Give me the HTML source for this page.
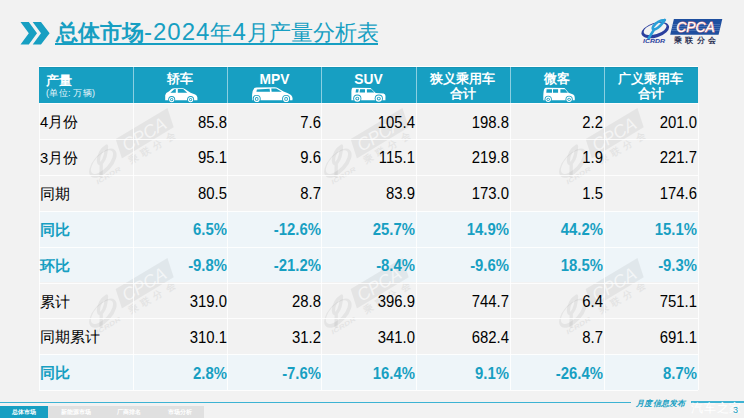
<!DOCTYPE html>
<html><head><meta charset="utf-8">
<style>
*{margin:0;padding:0;box-sizing:border-box}
html,body{width:744px;height:418px;overflow:hidden}
body{position:relative;background:#f2f2f2;font-family:"Liberation Sans",sans-serif;color:#000}
.a{position:absolute;white-space:nowrap}
#title{left:56px;top:19px;font-size:22px;line-height:26px;color:#179fc2;font-weight:500}
#title i{font-style:normal;font-size:24px;letter-spacing:1px;font-weight:400}
#uline{left:55px;top:42.5px;width:323px;height:2px;background:#179fc2}
#title b{font-weight:bold}
.hdr{position:absolute;left:39px;top:67px;width:659px;height:36px;background:#179fc2}
.vl{position:absolute;top:103px;width:1px;height:288px;background:rgba(255,255,255,0.85)}
.vh{position:absolute;top:67px;width:1px;height:36px;background:rgba(255,255,255,0.5)}
.hl{position:absolute;left:39px;width:659px;height:1px;background:rgba(255,255,255,0.85)}
.blue{position:absolute;left:39px;width:659px;height:36px;background:#eef5f9}
.lab{position:absolute;left:40px;font-size:14.7px;line-height:36px;margin-top:1px}
.num{position:absolute;font-size:16px;line-height:36px;text-align:right;width:90px;transform:scaleX(0.93);transform-origin:100% 50%;margin-top:1.5px;margin-left:-0.5px}
.bl{color:#179fc2;font-weight:bold}
.ht{position:absolute;color:#fff;font-weight:bold;font-size:12.6px;line-height:15.2px;text-align:center;width:94px}
</style></head><body>

<!-- chevrons -->
<svg class="a" style="left:0;top:0" width="60" height="60" viewBox="0 0 60 60">
<polygon fill="#179fc2" points="20.5,21.9 28.8,21.9 37,33.2 28.8,44.5 20.5,44.5 28.8,33.2"/>
<polygon fill="#179fc2" points="32.7,21.9 41,21.9 49.6,33.2 41,44.5 32.7,44.5 41,33.2"/>
</svg>

<div id="title" class="a"><b>总体市场</b><i>-2024</i>年<i>4</i>月产量分析表</div>
<div id="uline" class="a"></div>

<!-- logo --><svg class="a" style="left:640px;top:18px" width="90" height="30" viewBox="0 0 90 30"><g transform="rotate(-17 15.2 12)"><path fill="#2b3f9e" fill-rule="evenodd" d="M0.9,12.2 a14.3,7.3 0 1,0 28.6,0 a14.3,7.3 0 1,0 -28.6,0 Z M3.6,11.0 a11.8,5.3 0 1,0 23.6,0 a11.8,5.3 0 1,0 -23.6,0 Z"/></g><path fill="none" stroke="#2a9fd8" stroke-width="2.7" stroke-linejoin="round" stroke-linecap="round" d="M24.8,2 Q17.5,2.2 13.2,8.6 Q11.5,12 15.2,11.2 Q19.5,9.8 24.8,2 M14.2,11.4 L8.6,20.4"/><text x="3" y="24.6" font-size="5" font-style="italic" font-weight="bold" fill="#2b3f9e" textLength="22" lengthAdjust="spacingAndGlyphs">ICRDR</text><polygon fill="#1f4f9f" points="33.9,0.9 82.3,0.9 78.6,16.8 30.2,16.8"/><rect x="31.5" y="6.0" width="48.5" height="0.6" fill="#8fb3de" opacity="0.55"/><rect x="31.5" y="8.2" width="48.5" height="0.6" fill="#8fb3de" opacity="0.55"/><rect x="31.5" y="10.4" width="48.5" height="0.6" fill="#8fb3de" opacity="0.55"/><rect x="31.5" y="12.4" width="48.5" height="0.6" fill="#8fb3de" opacity="0.55"/><text x="36.2" y="14.4" font-size="14.5" font-style="italic" fill="#fff" stroke="#e08c8c" stroke-width="1.0" paint-order="stroke" textLength="38.5" lengthAdjust="spacingAndGlyphs">CPCA</text><text x="33.9" y="24.6" font-size="7.6" font-weight="bold" fill="#2a3052" textLength="42.3" lengthAdjust="spacing">乘联分会</text></svg><!-- /logo -->
<!-- table -->
<div class="hdr"></div>
<div class="blue" style="top:210.7px;height:35.9px"></div>
<div class="blue" style="top:246.6px;height:35.9px"></div>
<div class="blue" style="top:354.3px;height:35.9px"></div>
<!-- wmslot -->
<!-- wm --><svg class="a" style="left:0;top:0" width="744" height="418" viewBox="0 0 744 418"><g transform="translate(131,147.5) rotate(-31) scale(1.25) translate(-41,-13)"><g transform="rotate(-17 15.2 12)"><path fill="#000" fill-rule="evenodd" opacity="0.055" d="M0.9,12.2 a14.3,7.3 0 1,0 28.6,0 a14.3,7.3 0 1,0 -28.6,0 Z M3.6,11.0 a11.8,5.3 0 1,0 23.6,0 a11.8,5.3 0 1,0 -23.6,0 Z"/></g><path fill="none" stroke="#000" stroke-width="2.7" stroke-linejoin="round" stroke-linecap="round" opacity="0.055" d="M24.8,2 Q17.5,2.2 13.2,8.6 Q11.5,12 15.2,11.2 Q19.5,9.8 24.8,2 M14.2,11.4 L8.6,20.4"/><text x="3" y="24.6" font-size="5" font-style="italic" font-weight="bold" fill="#000" textLength="22" lengthAdjust="spacingAndGlyphs" opacity="0.055">ICRDR</text><polygon fill="#000" points="33.9,0.9 82.3,0.9 78.6,16.8 30.2,16.8" opacity="0.055"/><text x="36.2" y="14.4" font-size="14.5" font-style="italic" fill="#fff" opacity="0.6" textLength="38.5" lengthAdjust="spacingAndGlyphs">CPCA</text><text x="33.9" y="24.6" font-size="7.6" font-weight="bold" fill="#000" textLength="42.3" lengthAdjust="spacing" opacity="0.055">乘联分会</text></g><g transform="translate(131,297.5) rotate(-31) scale(1.25) translate(-41,-13)"><g transform="rotate(-17 15.2 12)"><path fill="#000" fill-rule="evenodd" opacity="0.055" d="M0.9,12.2 a14.3,7.3 0 1,0 28.6,0 a14.3,7.3 0 1,0 -28.6,0 Z M3.6,11.0 a11.8,5.3 0 1,0 23.6,0 a11.8,5.3 0 1,0 -23.6,0 Z"/></g><path fill="none" stroke="#000" stroke-width="2.7" stroke-linejoin="round" stroke-linecap="round" opacity="0.055" d="M24.8,2 Q17.5,2.2 13.2,8.6 Q11.5,12 15.2,11.2 Q19.5,9.8 24.8,2 M14.2,11.4 L8.6,20.4"/><text x="3" y="24.6" font-size="5" font-style="italic" font-weight="bold" fill="#000" textLength="22" lengthAdjust="spacingAndGlyphs" opacity="0.055">ICRDR</text><polygon fill="#000" points="33.9,0.9 82.3,0.9 78.6,16.8 30.2,16.8" opacity="0.055"/><text x="36.2" y="14.4" font-size="14.5" font-style="italic" fill="#fff" opacity="0.6" textLength="38.5" lengthAdjust="spacingAndGlyphs">CPCA</text><text x="33.9" y="24.6" font-size="7.6" font-weight="bold" fill="#000" textLength="42.3" lengthAdjust="spacing" opacity="0.055">乘联分会</text></g><g transform="translate(366,147.5) rotate(-31) scale(1.25) translate(-41,-13)"><g transform="rotate(-17 15.2 12)"><path fill="#000" fill-rule="evenodd" opacity="0.055" d="M0.9,12.2 a14.3,7.3 0 1,0 28.6,0 a14.3,7.3 0 1,0 -28.6,0 Z M3.6,11.0 a11.8,5.3 0 1,0 23.6,0 a11.8,5.3 0 1,0 -23.6,0 Z"/></g><path fill="none" stroke="#000" stroke-width="2.7" stroke-linejoin="round" stroke-linecap="round" opacity="0.055" d="M24.8,2 Q17.5,2.2 13.2,8.6 Q11.5,12 15.2,11.2 Q19.5,9.8 24.8,2 M14.2,11.4 L8.6,20.4"/><text x="3" y="24.6" font-size="5" font-style="italic" font-weight="bold" fill="#000" textLength="22" lengthAdjust="spacingAndGlyphs" opacity="0.055">ICRDR</text><polygon fill="#000" points="33.9,0.9 82.3,0.9 78.6,16.8 30.2,16.8" opacity="0.055"/><text x="36.2" y="14.4" font-size="14.5" font-style="italic" fill="#fff" opacity="0.6" textLength="38.5" lengthAdjust="spacingAndGlyphs">CPCA</text><text x="33.9" y="24.6" font-size="7.6" font-weight="bold" fill="#000" textLength="42.3" lengthAdjust="spacing" opacity="0.055">乘联分会</text></g><g transform="translate(366,297.5) rotate(-31) scale(1.25) translate(-41,-13)"><g transform="rotate(-17 15.2 12)"><path fill="#000" fill-rule="evenodd" opacity="0.055" d="M0.9,12.2 a14.3,7.3 0 1,0 28.6,0 a14.3,7.3 0 1,0 -28.6,0 Z M3.6,11.0 a11.8,5.3 0 1,0 23.6,0 a11.8,5.3 0 1,0 -23.6,0 Z"/></g><path fill="none" stroke="#000" stroke-width="2.7" stroke-linejoin="round" stroke-linecap="round" opacity="0.055" d="M24.8,2 Q17.5,2.2 13.2,8.6 Q11.5,12 15.2,11.2 Q19.5,9.8 24.8,2 M14.2,11.4 L8.6,20.4"/><text x="3" y="24.6" font-size="5" font-style="italic" font-weight="bold" fill="#000" textLength="22" lengthAdjust="spacingAndGlyphs" opacity="0.055">ICRDR</text><polygon fill="#000" points="33.9,0.9 82.3,0.9 78.6,16.8 30.2,16.8" opacity="0.055"/><text x="36.2" y="14.4" font-size="14.5" font-style="italic" fill="#fff" opacity="0.6" textLength="38.5" lengthAdjust="spacingAndGlyphs">CPCA</text><text x="33.9" y="24.6" font-size="7.6" font-weight="bold" fill="#000" textLength="42.3" lengthAdjust="spacing" opacity="0.055">乘联分会</text></g><g transform="translate(601,147.5) rotate(-31) scale(1.25) translate(-41,-13)"><g transform="rotate(-17 15.2 12)"><path fill="#000" fill-rule="evenodd" opacity="0.055" d="M0.9,12.2 a14.3,7.3 0 1,0 28.6,0 a14.3,7.3 0 1,0 -28.6,0 Z M3.6,11.0 a11.8,5.3 0 1,0 23.6,0 a11.8,5.3 0 1,0 -23.6,0 Z"/></g><path fill="none" stroke="#000" stroke-width="2.7" stroke-linejoin="round" stroke-linecap="round" opacity="0.055" d="M24.8,2 Q17.5,2.2 13.2,8.6 Q11.5,12 15.2,11.2 Q19.5,9.8 24.8,2 M14.2,11.4 L8.6,20.4"/><text x="3" y="24.6" font-size="5" font-style="italic" font-weight="bold" fill="#000" textLength="22" lengthAdjust="spacingAndGlyphs" opacity="0.055">ICRDR</text><polygon fill="#000" points="33.9,0.9 82.3,0.9 78.6,16.8 30.2,16.8" opacity="0.055"/><text x="36.2" y="14.4" font-size="14.5" font-style="italic" fill="#fff" opacity="0.6" textLength="38.5" lengthAdjust="spacingAndGlyphs">CPCA</text><text x="33.9" y="24.6" font-size="7.6" font-weight="bold" fill="#000" textLength="42.3" lengthAdjust="spacing" opacity="0.055">乘联分会</text></g><g transform="translate(601,297.5) rotate(-31) scale(1.25) translate(-41,-13)"><g transform="rotate(-17 15.2 12)"><path fill="#000" fill-rule="evenodd" opacity="0.055" d="M0.9,12.2 a14.3,7.3 0 1,0 28.6,0 a14.3,7.3 0 1,0 -28.6,0 Z M3.6,11.0 a11.8,5.3 0 1,0 23.6,0 a11.8,5.3 0 1,0 -23.6,0 Z"/></g><path fill="none" stroke="#000" stroke-width="2.7" stroke-linejoin="round" stroke-linecap="round" opacity="0.055" d="M24.8,2 Q17.5,2.2 13.2,8.6 Q11.5,12 15.2,11.2 Q19.5,9.8 24.8,2 M14.2,11.4 L8.6,20.4"/><text x="3" y="24.6" font-size="5" font-style="italic" font-weight="bold" fill="#000" textLength="22" lengthAdjust="spacingAndGlyphs" opacity="0.055">ICRDR</text><polygon fill="#000" points="33.9,0.9 82.3,0.9 78.6,16.8 30.2,16.8" opacity="0.055"/><text x="36.2" y="14.4" font-size="14.5" font-style="italic" fill="#fff" opacity="0.6" textLength="38.5" lengthAdjust="spacingAndGlyphs">CPCA</text><text x="33.9" y="24.6" font-size="7.6" font-weight="bold" fill="#000" textLength="42.3" lengthAdjust="spacing" opacity="0.055">乘联分会</text></g></svg><!-- /wm -->
<div class="hl" style="top:66px;background:#fff"></div>
<div class="a" style="left:39px;top:67px;width:659px;height:1px;background:rgba(0,0,0,0.06)"></div>
<div class="hl" style="top:103px"></div>
<div class="hl" style="top:138.9px"></div>
<div class="hl" style="top:174.8px"></div>
<div class="hl" style="top:210.7px"></div>
<div class="hl" style="top:246.6px"></div>
<div class="hl" style="top:282.5px"></div>
<div class="hl" style="top:318.4px"></div>
<div class="hl" style="top:354.3px"></div>
<div class="hl" style="top:390.2px"></div>
<div class="vh" style="left:133.36px"></div>
<div class="vh" style="left:227.42px"></div>
<div class="vh" style="left:321.48px"></div>
<div class="vh" style="left:415.54px"></div>
<div class="vh" style="left:509.6px"></div>
<div class="vh" style="left:603.66px"></div>
<div class="vl" style="left:39.3px;height:287.2px"></div>
<div class="vl" style="left:133.36px;height:287.2px"></div>
<div class="vl" style="left:227.42px;height:287.2px"></div>
<div class="vl" style="left:321.48px;height:287.2px"></div>
<div class="vl" style="left:415.54px;height:287.2px"></div>
<div class="vl" style="left:509.6px;height:287.2px"></div>
<div class="vl" style="left:603.66px;height:287.2px"></div>
<div class="vl" style="left:697.72px;height:287.2px"></div>

<!-- header text -->
<div class="a" style="left:46px;top:74px;color:#fff;font-weight:bold;font-size:12.6px;line-height:15px">产量</div>
<div class="a" style="left:46px;top:88px;color:#e6f5fa;font-size:9px;line-height:11px;letter-spacing:0.3px">(单位: 万辆)</div>
<div class="ht" style="left:133.4px;top:72px">轿车</div>
<div class="ht" style="left:227.4px;top:71.5px;font-size:13.8px">MPV</div>
<div class="ht" style="left:321.5px;top:71.5px;font-size:13.8px">SUV</div>
<div class="ht" style="left:415.5px;top:72px">狭义乘用车<br>合计</div>
<div class="ht" style="left:509.6px;top:72px">微客</div>
<div class="ht" style="left:603.7px;top:72px">广义乘用车<br>合计</div>

<svg class="a" style="left:162px;top:85px" width="38" height="18" viewBox="0 0 38 18">
<path fill="#fff" d="M3.2,15.3 L3.2,10.2 Q3.6,7.6 6.8,6.4 L9.6,3.9 Q10.6,3.2 12.2,3.2 L20.4,3.2 Q22,3.3 23.2,4.2 L28.6,7.8 L33.2,9.4 Q35.2,10.2 35.4,12.4 L35.4,15.3 Z"/>
<path fill="#179fc2" d="M8.4,7.7 L12.2,4.2 L13.8,4.0 L13.8,7.7 Z M15.8,3.9 L21.2,4.1 L25.2,7.7 L15.8,7.7 Z"/>
<circle cx="9.7" cy="14.6" r="3.50" fill="#179fc2"/><circle cx="9.7" cy="14.6" r="2.60" fill="#fff"/><circle cx="9.7" cy="14.6" r="1.56" fill="#179fc2"/><circle cx="9.7" cy="14.6" r="0.83" fill="#fff"/><circle cx="28.6" cy="14.6" r="3.50" fill="#179fc2"/><circle cx="28.6" cy="14.6" r="2.60" fill="#fff"/><circle cx="28.6" cy="14.6" r="1.56" fill="#179fc2"/><circle cx="28.6" cy="14.6" r="0.83" fill="#fff"/>
</svg>
<svg class="a" style="left:249px;top:85px" width="46" height="18" viewBox="0 0 46 18">
<path fill="#fff" d="M3.1,15.2 L3.1,9.5 Q3.3,5.5 5.4,3 Q6,2.4 7.5,2.4 L25.5,2.2 Q27.6,2.2 29.5,3.4 L34.6,6.4 Q39.5,8 42,10 Q43.6,11.5 43.6,13.5 L43.4,15.2 Z"/>
<path fill="#179fc2" d="M7.9,4.4 L20.6,3.7 L21,6.8 L7.4,6.8 Z M22.3,3.5 L27.2,3.4 L32.8,6.8 L22.6,6.8 Z"/>
<circle cx="7.7" cy="13.9" r="4.00" fill="#179fc2"/><circle cx="7.7" cy="13.9" r="3.10" fill="#fff"/><circle cx="7.7" cy="13.9" r="1.86" fill="#179fc2"/><circle cx="7.7" cy="13.9" r="0.99" fill="#fff"/><circle cx="37.1" cy="13.9" r="4.00" fill="#179fc2"/><circle cx="37.1" cy="13.9" r="3.10" fill="#fff"/><circle cx="37.1" cy="13.9" r="1.86" fill="#179fc2"/><circle cx="37.1" cy="13.9" r="0.99" fill="#fff"/>
</svg>
<svg class="a" style="left:348px;top:85px" width="42" height="18" viewBox="0 0 42 18">
<path fill="#fff" d="M3.4,15.2 L3.4,6 Q3.6,3.2 4.6,2.8 L22.6,3 L27.7,7.9 L35.6,8.4 Q37.5,9.2 37.5,11 L37.4,15.2 Z"/>
<path fill="#179fc2" d="M8,4.2 L10.7,4.2 L10.2,7.6 L7.6,7.6 Z M12.1,4.2 L17,4.2 L17,7.6 L11.6,7.6 Z M18.9,4.2 L23.2,4.2 L26.5,7.6 L18.9,7.6 Z"/>
<circle cx="9.3" cy="13.6" r="4.10" fill="#179fc2"/><circle cx="9.3" cy="13.6" r="3.20" fill="#fff"/><circle cx="9.3" cy="13.6" r="1.92" fill="#179fc2"/><circle cx="9.3" cy="13.6" r="1.02" fill="#fff"/><circle cx="30.8" cy="13.6" r="4.10" fill="#179fc2"/><circle cx="30.8" cy="13.6" r="3.20" fill="#fff"/><circle cx="30.8" cy="13.6" r="1.92" fill="#179fc2"/><circle cx="30.8" cy="13.6" r="1.02" fill="#fff"/>
</svg>
<svg class="a" style="left:540px;top:85px" width="38" height="18" viewBox="0 0 38 18">
<path fill="#fff" d="M3.3,15.3 L3.3,11 Q3.4,5 4.6,3.4 Q5,2.8 6,2.8 L24.5,3 L28.6,7.7 L33.2,9.6 Q34.8,10.6 34.8,13 L34.8,15.3 Z"/>
<path fill="#179fc2" d="M6.6,4.3 L12,4.3 L12,7.7 L6.3,7.7 Z M13,4.3 L18.1,4.3 L18.1,7.7 L13,7.7 Z M20.4,4.3 L25,4.3 L27.8,7.7 L20.4,7.7 Z"/>
<circle cx="8.2" cy="14.3" r="3.60" fill="#179fc2"/><circle cx="8.2" cy="14.3" r="2.70" fill="#fff"/><circle cx="8.2" cy="14.3" r="1.62" fill="#179fc2"/><circle cx="8.2" cy="14.3" r="0.86" fill="#fff"/><circle cx="29.1" cy="14.3" r="3.60" fill="#179fc2"/><circle cx="29.1" cy="14.3" r="2.70" fill="#fff"/><circle cx="29.1" cy="14.3" r="1.62" fill="#179fc2"/><circle cx="29.1" cy="14.3" r="0.86" fill="#fff"/>
</svg>
<!-- rows -->
<div class="lab" style="top:103px">4月份</div>
<div class="num" style="left:137.12px;top:103px">85.8</div>
<div class="num" style="left:231.18px;top:103px">7.6</div>
<div class="num" style="left:325.24px;top:103px">105.4</div>
<div class="num" style="left:419.3px;top:103px">198.8</div>
<div class="num" style="left:513.36px;top:103px">2.2</div>
<div class="num" style="left:607.42px;top:103px">201.0</div>
<div class="lab" style="top:138.9px">3月份</div>
<div class="num" style="left:137.12px;top:138.9px">95.1</div>
<div class="num" style="left:231.18px;top:138.9px">9.6</div>
<div class="num" style="left:325.24px;top:138.9px">115.1</div>
<div class="num" style="left:419.3px;top:138.9px">219.8</div>
<div class="num" style="left:513.36px;top:138.9px">1.9</div>
<div class="num" style="left:607.42px;top:138.9px">221.7</div>
<div class="lab" style="top:174.8px">同期</div>
<div class="num" style="left:137.12px;top:174.8px">80.5</div>
<div class="num" style="left:231.18px;top:174.8px">8.7</div>
<div class="num" style="left:325.24px;top:174.8px">83.9</div>
<div class="num" style="left:419.3px;top:174.8px">173.0</div>
<div class="num" style="left:513.36px;top:174.8px">1.5</div>
<div class="num" style="left:607.42px;top:174.8px">174.6</div>
<div class="lab bl" style="top:210.7px">同比</div>
<div class="num bl" style="left:137.12px;top:210.7px">6.5%</div>
<div class="num bl" style="left:231.18px;top:210.7px">-12.6%</div>
<div class="num bl" style="left:325.24px;top:210.7px">25.7%</div>
<div class="num bl" style="left:419.3px;top:210.7px">14.9%</div>
<div class="num bl" style="left:513.36px;top:210.7px">44.2%</div>
<div class="num bl" style="left:607.42px;top:210.7px">15.1%</div>
<div class="lab bl" style="top:246.6px">环比</div>
<div class="num bl" style="left:137.12px;top:246.6px">-9.8%</div>
<div class="num bl" style="left:231.18px;top:246.6px">-21.2%</div>
<div class="num bl" style="left:325.24px;top:246.6px">-8.4%</div>
<div class="num bl" style="left:419.3px;top:246.6px">-9.6%</div>
<div class="num bl" style="left:513.36px;top:246.6px">18.5%</div>
<div class="num bl" style="left:607.42px;top:246.6px">-9.3%</div>
<div class="lab" style="top:282.5px">累计</div>
<div class="num" style="left:137.12px;top:282.5px">319.0</div>
<div class="num" style="left:231.18px;top:282.5px">28.8</div>
<div class="num" style="left:325.24px;top:282.5px">396.9</div>
<div class="num" style="left:419.3px;top:282.5px">744.7</div>
<div class="num" style="left:513.36px;top:282.5px">6.4</div>
<div class="num" style="left:607.42px;top:282.5px">751.1</div>
<div class="lab" style="top:318.4px">同期累计</div>
<div class="num" style="left:137.12px;top:318.4px">310.1</div>
<div class="num" style="left:231.18px;top:318.4px">31.2</div>
<div class="num" style="left:325.24px;top:318.4px">341.0</div>
<div class="num" style="left:419.3px;top:318.4px">682.4</div>
<div class="num" style="left:513.36px;top:318.4px">8.7</div>
<div class="num" style="left:607.42px;top:318.4px">691.1</div>
<div class="lab bl" style="top:354.3px">同比</div>
<div class="num bl" style="left:137.12px;top:354.3px">2.8%</div>
<div class="num bl" style="left:231.18px;top:354.3px">-7.6%</div>
<div class="num bl" style="left:325.24px;top:354.3px">16.4%</div>
<div class="num bl" style="left:419.3px;top:354.3px">9.1%</div>
<div class="num bl" style="left:513.36px;top:354.3px">-26.4%</div>
<div class="num bl" style="left:607.42px;top:354.3px">8.7%</div>

<!-- footer -->
<div class="a" style="left:0;top:401.5px;width:631px;height:1.5px;background:#3db3d3"></div>
<div class="a" style="left:691px;top:401px;width:53px;height:1.5px;background:#3db3d3"></div>
<div class="a" style="left:636px;top:398px;font-size:8px;line-height:12px;color:#179fc2;font-style:italic;font-weight:bold;letter-spacing:0.3px">月度信息发布</div>
<div class="a" style="left:0;top:405.5px;width:48px;height:12.5px;background:#179fc2"></div>
<div class="a" style="left:48px;top:405.5px;width:156px;height:12.5px;background:#e0e0e0"></div>
<div class="a" style="left:11.5px;top:405.5px;font-size:6px;line-height:12.5px;color:#fff;font-weight:bold">总体市场</div>
<div class="a" style="left:60.5px;top:405.5px;font-size:6.2px;line-height:12.5px;color:#fff;font-weight:bold">新能源市场</div>
<div class="a" style="left:117px;top:405.5px;font-size:6.2px;line-height:12.5px;color:#fff;font-weight:bold">厂商排名</div>
<div class="a" style="left:168px;top:405.5px;font-size:6.2px;line-height:12.5px;color:#fff;font-weight:bold">市场分析</div>
<div class="a" style="left:691px;top:401.5px;font-size:11.5px;line-height:13px;color:#fff;letter-spacing:0.8px">汽车之家</div>
<div class="a" style="left:733px;top:405px;font-size:9px;line-height:10px;color:#179fc2">3</div>
<!-- /footer -->
</body></html>
